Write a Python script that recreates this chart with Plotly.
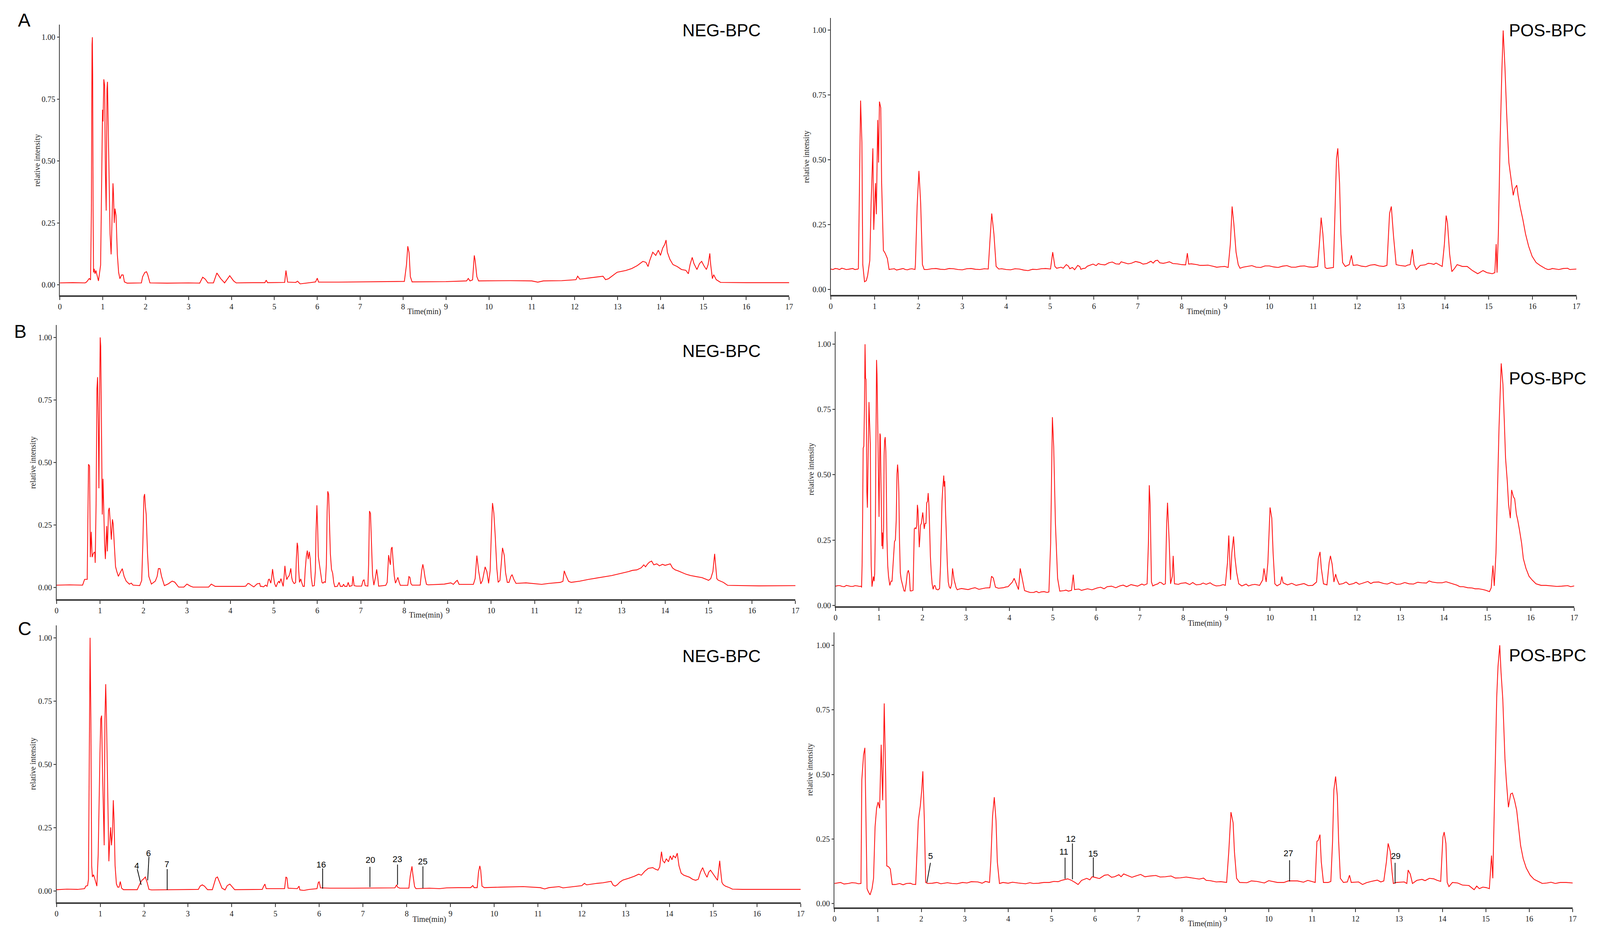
import plotly.graph_objects as go

W, H = 4295, 2409          # reference picture size (design grid)
K = 0.956                  # css-pixel / picture-pixel ratio observed in the renderer

# ---------------- data: (time [min], relative intensity) ----------------
neg_a_t = [0.00,0.30,0.59,0.625,0.686,0.716,0.735,0.75,0.758,0.765,0.775,0.785,0.80,0.82,0.84,0.87,0.90,0.95,0.977,0.995,
           1.007,1.025,1.044,1.062,1.08,1.098,1.11,1.13,1.147,1.17,1.195,1.22,1.238,1.25,1.268,1.286,1.31,1.34,1.37,1.40,
           1.44,1.475,1.505,1.57,1.90,1.93,1.98,2.02,2.05,2.10,2.5,3.0,3.26,3.33,3.39,3.45,3.58,3.66,3.75,3.84,
           3.96,4.05,4.11,4.5,4.78,4.81,4.84,5.24,5.27,5.31,5.50,5.54,5.60,5.69,5.96,6.00,6.03,6.5,7.0,7.5,
           8.03,8.08,8.11,8.14,8.17,8.21,9.0,9.48,9.52,9.56,9.62,9.66,9.68,9.72,9.76,10.5,11.0,11.14,11.27,11.7,
           12.03,12.07,12.12,12.39,12.66,12.72,12.79,12.99,13.19,13.33,13.46,13.59,13.66,13.71,13.75,13.82,13.89,13.95,14.00,14.05,
           14.10,14.13,14.16,14.22,14.29,14.39,14.49,14.59,14.65,14.69,14.74,14.78,14.85,14.91,14.96,15.01,15.07,15.11,15.15,15.17,
           15.21,15.24,15.30,15.40,16.0,17.0]
neg_a_v = [0.008,0.009,0.008,0.012,0.026,0.020,0.30,0.97,1.00,0.85,0.30,0.05,0.065,0.045,0.058,0.035,0.016,0.08,0.41,0.707,
           0.66,0.83,0.805,0.45,0.30,0.79,0.82,0.61,0.41,0.205,0.123,0.288,0.41,0.37,0.25,0.308,0.28,0.123,0.05,0.025,
           0.04,0.04,0.012,0.007,0.008,0.033,0.05,0.053,0.04,0.008,0.007,0.008,0.007,0.031,0.023,0.008,0.008,0.048,0.025,0.008,
           0.037,0.016,0.008,0.009,0.009,0.019,0.009,0.010,0.058,0.011,0.010,0.015,0.004,0.006,0.012,0.027,0.011,0.011,0.012,0.013,
           0.014,0.082,0.156,0.13,0.033,0.012,0.013,0.016,0.026,0.016,0.02,0.119,0.099,0.033,0.016,0.017,0.016,0.011,0.016,0.017,
           0.021,0.035,0.023,0.029,0.035,0.021,0.025,0.051,0.058,0.066,0.078,0.095,0.091,0.074,0.099,0.132,0.119,0.14,0.119,0.148,
           0.164,0.181,0.132,0.103,0.082,0.074,0.062,0.059,0.045,0.082,0.111,0.086,0.062,0.086,0.095,0.078,0.062,0.082,0.127,0.082,
           0.025,0.041,0.021,0.010,0.009,0.009]

pos_a_t = [0,0.1,0.2,0.3,0.4,0.5,0.62,0.63,0.65,0.68,0.71,0.73,0.77,0.81,0.84,0.89,0.92,0.96,0.98,1.02,
           1.04,1.07,1.09,1.11,1.14,1.16,1.20,1.24,1.29,1.33,1.39,1.5,1.6,1.7,1.8,1.92,1.93,1.97,1.99,2.01,
           2.05,2.09,2.13,2.3,2.5,2.7,2.9,3.1,3.3,3.5,3.59,3.63,3.67,3.72,3.77,3.83,4.0,4.2,4.4,4.6,
           4.8,5.01,5.06,5.11,5.15,5.25,5.37,5.45,5.51,5.63,5.7,5.75,5.85,5.98,6.15,6.34,6.5,6.69,6.85,7.05,
           7.2,7.40,7.5,7.64,7.8,8.0,8.09,8.13,8.16,8.35,8.5,8.71,8.9,9.06,9.11,9.15,9.19,9.24,9.29,9.33,
           9.5,9.7,9.9,10.1,10.3,10.5,10.7,10.9,11.1,11.14,11.18,11.22,11.27,11.31,11.46,11.49,11.53,11.56,11.60,11.63,
           11.67,11.73,11.82,11.87,11.91,12.1,12.3,12.5,12.68,12.74,12.78,12.83,12.89,12.97,13.1,13.21,13.26,13.30,13.35,13.44,
           13.55,13.68,13.86,13.94,13.99,14.03,14.06,14.11,14.16,14.22,14.28,14.40,14.51,14.63,14.75,14.87,14.96,15.08,15.14,15.17,
           15.19,15.22,15.26,15.30,15.33,15.37,15.41,15.46,15.51,15.56,15.59,15.64,15.67,15.72,15.78,15.84,15.91,15.99,16.08,16.17,
           16.29,16.4,16.53,16.7,16.85,17.0]
pos_a_v = [0.079,0.081,0.077,0.080,0.078,0.081,0.079,0.081,0.33,0.728,0.567,0.096,0.03,0.034,0.053,0.112,0.332,0.544,0.23,0.41,
           0.29,0.653,0.489,0.724,0.70,0.41,0.151,0.14,0.12,0.077,0.079,0.075,0.080,0.077,0.079,0.077,0.096,0.324,0.387,0.457,
           0.332,0.096,0.077,0.080,0.078,0.081,0.077,0.080,0.078,0.080,0.079,0.19,0.293,0.214,0.089,0.079,0.077,0.080,0.075,0.078,
           0.080,0.079,0.144,0.089,0.082,0.086,0.096,0.08,0.085,0.093,0.078,0.081,0.09,0.098,0.097,0.103,0.099,0.103,0.101,0.104,
           0.1,0.111,0.103,0.103,0.1,0.096,0.095,0.14,0.098,0.096,0.093,0.09,0.088,0.085,0.175,0.32,0.253,0.144,0.096,0.082,
           0.089,0.086,0.091,0.087,0.090,0.086,0.090,0.087,0.089,0.175,0.277,0.214,0.085,0.081,0.085,0.253,0.504,0.544,0.41,0.214,
           0.104,0.089,0.096,0.132,0.093,0.090,0.094,0.091,0.093,0.293,0.32,0.206,0.096,0.093,0.09,0.096,0.155,0.096,0.077,0.093,
           0.095,0.10,0.096,0.089,0.175,0.285,0.257,0.136,0.069,0.081,0.096,0.089,0.089,0.073,0.061,0.073,0.065,0.061,0.065,0.175,
           0.065,0.214,0.567,0.842,0.998,0.858,0.677,0.489,0.426,0.363,0.387,0.402,0.363,0.316,0.269,0.214,0.167,0.128,0.104,0.093,
           0.081,0.078,0.079,0.081,0.077,0.079]
# baseline detail (noise) read between the peaks
pos_a_fine_t = [0.05,0.15,0.25,0.35,0.45,0.55,1.45,1.55,1.65,1.75,1.85,2.2,2.4,2.6,2.8,3.0,3.2,3.4,3.9,4.1,
                4.3,4.5,4.7,4.9,5.3,5.42,5.56,5.68,5.8,5.92,6.05,6.1,6.25,6.42,6.58,6.62,6.78,6.95,7.12,7.3,
                7.35,7.45,7.58,7.72,7.9,8.22,8.42,8.6,8.8,8.98,9.4,9.6,9.8,10.0,10.2,10.4,10.6,10.8,11.0,12.0,
                12.2,12.4,12.6,13.15,13.62,13.75,13.8,16.35,16.45,16.6,16.8,16.95]
pos_a_fine_v = [0.077,0.080,0.082,0.077,0.080,0.077,0.080,0.077,0.081,0.076,0.080,0.077,0.081,0.077,0.080,0.076,0.081,0.077,0.080,0.076,
                0.079,0.073,0.077,0.081,0.082,0.090,0.076,0.088,0.082,0.094,0.092,0.100,0.095,0.106,0.098,0.107,0.099,0.108,0.098,0.109,
                0.102,0.113,0.101,0.107,0.099,0.099,0.093,0.094,0.086,0.089,0.086,0.092,0.085,0.091,0.085,0.092,0.086,0.091,0.086,0.095,
                0.088,0.096,0.089,0.094,0.101,0.097,0.102,0.077,0.081,0.077,0.082,0.078]

neg_b_t = [0,0.3,0.6,0.646,0.706,0.736,0.76,0.778,0.80,0.82,0.85,0.88,0.89,0.91,0.93,0.945,0.963,0.975,0.993,1.005,
           1.017,1.035,1.053,1.07,1.089,1.106,1.124,1.142,1.154,1.17,1.196,1.214,1.238,1.262,1.286,1.304,1.328,1.358,1.388,1.423,
           1.465,1.513,1.555,1.603,1.675,1.72,1.76,1.914,1.96,1.986,2.01,2.027,2.045,2.063,2.093,2.123,2.183,2.273,2.315,2.344,
           2.38,2.416,2.482,2.57,2.66,2.72,2.81,2.93,3.0,3.08,3.14,3.5,3.56,3.65,4.31,4.354,4.405,4.438,4.49,4.54,
           4.614,4.674,4.69,4.725,4.76,4.81,4.843,4.876,4.894,4.93,4.95,4.97,4.995,5.018,5.05,5.085,5.113,5.133,5.163,5.19,
           5.214,5.23,5.254,5.275,5.298,5.32,5.35,5.37,5.39,5.41,5.43,5.467,5.50,5.517,5.537,5.55,5.57,5.59,5.618,5.64,
           5.67,5.70,5.72,5.746,5.77,5.79,5.816,5.837,5.86,5.888,5.93,5.955,5.97,5.99,6.006,6.023,6.05,6.076,6.107,6.13,
           6.158,6.185,6.208,6.225,6.24,6.26,6.275,6.30,6.326,6.353,6.377,6.40,6.46,6.50,6.53,6.58,6.603,6.63,6.68,6.71,
           6.738,6.80,6.82,6.846,6.90,7.018,7.05,7.075,7.10,7.163,7.18,7.20,7.223,7.243,7.27,7.30,7.337,7.365,7.39,7.41,
           7.574,7.607,7.625,7.64,7.665,7.68,7.70,7.72,7.74,7.77,7.797,7.826,7.853,7.884,7.91,8.08,8.106,8.13,8.153,8.18,
           8.366,8.40,8.427,8.45,8.477,8.51,8.55,8.92,9.07,9.13,9.19,9.22,9.26,9.59,9.63,9.67,9.71,9.76,9.80,9.86,
           9.90,9.94,9.975,10.01,10.03,10.06,10.09,10.13,10.16,10.20,10.24,10.26,10.30,10.33,10.37,10.41,10.45,10.48,10.52,10.57,
           10.80,11.06,11.16,11.33,11.59,11.65,11.68,11.72,11.78,11.84,12.04,12.24,12.50,12.77,12.96,13.16,13.25,13.35,13.45,13.51,
           13.55,13.60,13.64,13.69,13.74,13.81,13.87,13.94,14.0,14.07,14.12,14.17,14.23,14.30,14.39,14.49,14.59,14.73,14.85,14.95,
           15.0,15.05,15.10,15.14,15.16,15.19,15.22,15.28,15.34,15.44,15.77,16.16,17.0]
neg_b_v = [0.010,0.011,0.010,0.033,0.033,0.493,0.486,0.122,0.223,0.122,0.138,0.142,0.099,0.331,0.795,0.841,0.64,0.397,0.795,1.0,
           0.965,0.64,0.292,0.435,0.285,0.176,0.114,0.215,0.246,0.145,0.308,0.319,0.254,0.192,0.273,0.254,0.176,0.084,0.064,0.045,
           0.06,0.076,0.045,0.026,0.014,0.018,0.010,0.008,0.029,0.176,0.362,0.374,0.323,0.292,0.138,0.045,0.014,0.026,0.045,0.076,
           0.076,0.045,0.008,0.015,0.026,0.022,0.002,0.002,0.014,0.006,0.002,0.002,0.014,0.005,0.005,0.006,0.017,0.015,0.008,0.003,
           0.015,0.017,0.005,0.005,0.003,0.010,0.005,0.032,0.034,0.018,0.041,0.074,0.041,0.016,0.003,0.018,0.026,0.018,0.036,0.018,
           0.005,0.031,0.087,0.052,0.032,0.041,0.047,0.060,0.077,0.041,0.026,0.016,0.020,0.114,0.179,0.166,0.073,0.021,0.035,0.021,
           0.005,0.005,0.067,0.124,0.148,0.114,0.143,0.114,0.041,0.006,0.008,0.067,0.223,0.329,0.249,0.124,0.093,0.062,0.021,0.018,
           0.023,0.021,0.093,0.301,0.385,0.373,0.275,0.135,0.073,0.057,0.021,0.004,0.005,0.021,0.005,0.005,0.014,0.005,0.005,0.021,
           0.005,0.008,0.046,0.008,0.006,0.006,0.027,0.032,0.008,0.006,0.093,0.306,0.296,0.181,0.052,0.010,0.041,0.073,0.041,0.006,
           0.009,0.021,0.093,0.130,0.104,0.091,0.155,0.162,0.114,0.047,0.018,0.031,0.041,0.021,0.009,0.009,0.044,0.041,0.016,0.010,
           0.010,0.067,0.093,0.073,0.041,0.013,0.011,0.014,0.019,0.013,0.025,0.029,0.013,0.013,0.036,0.128,0.067,0.015,0.029,0.083,
           0.064,0.017,0.067,0.253,0.338,0.299,0.214,0.075,0.021,0.029,0.122,0.159,0.129,0.060,0.021,0.021,0.044,0.052,0.033,0.017,
           0.019,0.015,0.013,0.017,0.021,0.025,0.067,0.048,0.025,0.021,0.026,0.033,0.040,0.048,0.056,0.064,0.069,0.071,0.079,0.091,
           0.083,0.095,0.102,0.106,0.091,0.095,0.087,0.093,0.089,0.093,0.095,0.079,0.071,0.067,0.060,0.053,0.048,0.044,0.040,0.033,
           0.029,0.036,0.064,0.135,0.098,0.036,0.030,0.025,0.021,0.009,0.008,0.007,0.008]

pos_b_t = [0,0.1,0.2,0.3,0.4,0.5,0.59,0.598,0.61,0.62,0.635,0.65,0.664,0.678,0.69,0.70,0.712,0.72,0.732,0.744,
           0.758,0.769,0.783,0.80,0.81,0.82,0.838,0.855,0.87,0.886,0.90,0.915,0.93,0.943,0.954,0.963,0.977,0.99,1.0,1.011,
           1.02,1.03,1.043,1.054,1.066,1.077,1.088,1.105,1.117,1.128,1.142,1.157,1.168,1.182,1.20,1.219,1.248,1.276,1.299,1.319,
           1.339,1.356,1.376,1.396,1.413,1.427,1.442,1.456,1.47,1.49,1.51,1.533,1.553,1.575,1.598,1.624,1.652,1.675,1.698,1.718,
           1.746,1.783,1.795,1.812,1.832,1.852,1.869,1.883,1.897,1.912,1.926,1.94,1.954,1.974,1.988,2.006,2.023,2.04,2.06,2.08,
           2.097,2.117,2.131,2.148,2.165,2.182,2.202,2.222,2.245,2.268,2.29,2.316,2.359,2.393,2.416,2.433,2.45,2.467,2.479,2.49,
           2.50,2.513,2.53,2.55,2.573,2.593,2.615,2.644,2.672,2.692,2.71,2.729,2.752,2.772,2.80,2.843,2.986,3.21,3.45,3.55,
           3.59,3.63,3.68,3.86,3.97,4.07,4.11,4.16,4.21,4.25,4.30,4.35,4.42,4.56,4.73,4.91,4.95,4.99,5.02,5.06,
           5.11,5.16,5.26,5.43,5.47,5.50,5.72,6.02,6.25,6.54,6.89,7.17,7.20,7.22,7.24,7.27,7.30,7.42,7.50,7.59,
           7.62,7.64,7.68,7.71,7.75,7.77,7.80,7.89,8.06,8.30,8.53,8.62,8.76,8.97,9.02,9.05,9.09,9.12,9.16,9.19,
           9.23,9.28,9.35,9.58,9.76,9.83,9.86,9.91,9.95,10.0,10.04,10.07,10.11,10.16,10.24,10.27,10.30,10.40,10.69,10.98,
           11.07,11.11,11.15,11.18,11.23,11.31,11.36,11.39,11.43,11.47,11.51,11.54,11.59,11.68,11.92,12.15,12.38,12.62,12.91,13.20,
           13.49,13.73,13.96,14.2,14.37,14.55,14.72,14.90,15.05,15.09,15.13,15.16,15.20,15.24,15.27,15.32,15.36,15.39,15.42,15.46,
           15.49,15.53,15.56,15.60,15.63,15.67,15.70,15.74,15.79,15.83,15.89,15.96,16.03,16.12,16.24,16.47,16.71,17.0]
pos_b_v = [0.074,0.076,0.072,0.075,0.073,0.075,0.074,0.069,0.153,0.293,0.602,0.609,0.749,0.999,0.869,0.865,0.644,0.434,0.374,0.532,
           0.714,0.778,0.70,0.616,0.293,0.153,0.072,0.093,0.111,0.093,0.121,0.293,0.609,0.939,0.883,0.785,0.644,0.434,0.339,0.504,
           0.658,0.651,0.504,0.364,0.227,0.279,0.216,0.293,0.574,0.630,0.644,0.588,0.469,0.258,0.153,0.111,0.077,0.093,0.093,0.153,
           0.202,0.244,0.251,0.328,0.504,0.539,0.504,0.434,0.258,0.125,0.10,0.083,0.069,0.056,0.055,0.083,0.125,0.135,0.118,0.056,
           0.056,0.058,0.153,0.293,0.297,0.293,0.307,0.385,0.364,0.293,0.223,0.258,0.307,0.314,0.335,0.356,0.328,0.293,0.314,0.314,
           0.392,0.399,0.43,0.385,0.293,0.188,0.125,0.083,0.062,0.076,0.076,0.062,0.060,0.065,0.153,0.293,0.399,0.448,0.476,0.497,
           0.455,0.476,0.364,0.258,0.153,0.09,0.072,0.065,0.083,0.142,0.118,0.097,0.083,0.069,0.060,0.063,0.063,0.068,0.067,0.068,
           0.112,0.105,0.070,0.068,0.072,0.090,0.104,0.083,0.061,0.142,0.098,0.057,0.053,0.050,0.052,0.052,0.238,0.72,0.608,0.312,
           0.104,0.055,0.057,0.058,0.118,0.061,0.061,0.067,0.072,0.075,0.077,0.083,0.238,0.46,0.386,0.090,0.075,0.083,0.087,0.083,
           0.312,0.393,0.238,0.083,0.112,0.19,0.083,0.081,0.087,0.079,0.081,0.087,0.075,0.077,0.164,0.268,0.098,0.201,0.264,0.186,
           0.127,0.083,0.075,0.079,0.077,0.098,0.142,0.090,0.164,0.375,0.334,0.201,0.083,0.075,0.083,0.111,0.087,0.079,0.081,0.077,
           0.090,0.179,0.205,0.142,0.083,0.079,0.164,0.19,0.157,0.090,0.12,0.101,0.081,0.084,0.084,0.087,0.089,0.084,0.081,0.083,
           0.087,0.090,0.087,0.083,0.072,0.068,0.064,0.061,0.053,0.068,0.153,0.075,0.201,0.46,0.682,0.926,0.845,0.712,0.564,0.475,
           0.386,0.334,0.442,0.416,0.408,0.349,0.327,0.29,0.238,0.179,0.142,0.112,0.098,0.083,0.077,0.075,0.074,0.075]
pos_b_fine_t = [0.05,0.15,0.25,0.35,0.45,0.55,2.9,3.05,3.15,3.3,3.4,3.75,3.92,4.48,4.62,4.68,4.8,4.87,5.3,5.36,
                5.6,5.66,5.8,5.9,6.1,6.18,6.35,6.45,6.62,6.7,6.8,6.95,7.05,7.1,7.35,7.46,7.55,7.95,8.15,8.22,
                8.4,8.46,8.68,8.85,8.92,9.45,9.5,9.65,10.5,10.6,10.78,10.88,11.75,11.82,11.98,12.05,12.25,12.32,12.5,12.7,
                12.8,13.0,13.1,13.3,13.4,13.6,13.66,13.85,14.05,14.3,14.45,14.65,14.8,14.97,16.35,16.6,16.85,16.92]
pos_b_fine_v = [0.076,0.073,0.077,0.073,0.076,0.073,0.065,0.061,0.066,0.062,0.066,0.066,0.071,0.050,0.054,0.049,0.053,0.050,0.059,0.055,
                0.063,0.058,0.064,0.060,0.070,0.064,0.074,0.068,0.078,0.072,0.080,0.074,0.082,0.078,0.079,0.089,0.080,0.085,0.080,0.088,
                0.081,0.086,0.080,0.076,0.080,0.082,0.075,0.081,0.085,0.077,0.084,0.076,0.090,0.080,0.089,0.081,0.092,0.084,0.090,0.082,
                0.089,0.082,0.088,0.082,0.089,0.086,0.094,0.087,0.091,0.078,0.072,0.067,0.064,0.058,0.077,0.073,0.076,0.072]

neg_c_t = [0,0.24,0.48,0.64,0.67,0.71,0.73,0.75,0.767,0.785,0.803,0.82,0.845,0.87,0.89,0.922,0.952,0.976,0.993,1.011,
           1.03,1.047,1.07,1.089,1.106,1.124,1.142,1.16,1.178,1.196,1.214,1.237,1.255,1.279,1.297,1.315,1.338,1.368,1.398,1.428,
           1.457,1.487,1.529,1.844,1.904,1.95,1.993,2.029,2.064,2.112,2.17,2.915,3.24,3.28,3.33,3.38,3.45,3.56,3.60,3.64,
           3.676,3.72,3.78,3.85,3.90,3.96,4.02,4.07,4.70,4.73,4.76,4.79,5.21,5.24,5.265,5.29,5.50,5.54,5.56,5.65,
           5.77,5.95,5.98,6.00,6.03,6.246,6.78,7.38,7.73,7.77,7.79,7.84,8.05,8.08,8.12,8.14,8.18,8.21,8.52,8.75,
           8.91,9.17,9.46,9.51,9.54,9.61,9.64,9.67,9.69,9.72,9.77,10.14,10.66,11.05,11.15,11.25,11.48,11.57,11.77,12.0,
           12.06,12.11,12.35,12.48,12.67,12.71,12.76,12.81,12.87,12.94,13.07,13.2,13.30,13.36,13.44,13.52,13.62,13.68,13.74,13.78,
           13.82,13.85,13.89,13.93,13.98,14.02,14.06,14.09,14.14,14.18,14.22,14.27,14.33,14.40,14.46,14.53,14.60,14.66,14.71,14.76,
           14.81,14.86,14.90,14.94,14.99,15.05,15.10,15.12,15.15,15.17,15.20,15.23,15.28,15.37,15.44,15.67,16.32,17.0]
neg_c_v = [0.006,0.008,0.007,0.010,0.020,0.022,0.047,0.590,1.0,0.679,0.101,0.056,0.065,0.052,0.038,0.020,0.145,0.412,0.546,0.679,
           0.693,0.501,0.323,0.181,0.679,0.817,0.679,0.501,0.279,0.118,0.19,0.252,0.181,0.234,0.359,0.279,0.101,0.029,0.016,0.016,
           0.038,0.012,0.006,0.006,0.029,0.043,0.049,0.056,0.038,0.007,0.005,0.007,0.007,0.020,0.025,0.020,0.006,0.006,0.029,0.052,
           0.056,0.038,0.012,0.005,0.022,0.028,0.016,0.006,0.007,0.019,0.028,0.010,0.010,0.056,0.052,0.012,0.010,0.020,0.005,0.003,
           0.007,0.010,0.034,0.037,0.013,0.012,0.012,0.013,0.013,0.025,0.016,0.012,0.012,0.059,0.098,0.067,0.018,0.010,0.012,0.010,
           0.013,0.014,0.014,0.022,0.014,0.014,0.075,0.10,0.083,0.020,0.014,0.016,0.018,0.014,0.009,0.014,0.018,0.013,0.017,0.022,
           0.031,0.025,0.031,0.033,0.039,0.025,0.020,0.025,0.036,0.044,0.051,0.059,0.067,0.063,0.079,0.090,0.093,0.087,0.083,0.096,
           0.156,0.12,0.112,0.128,0.116,0.139,0.124,0.140,0.132,0.150,0.10,0.071,0.063,0.059,0.055,0.047,0.043,0.047,0.075,0.093,
           0.071,0.055,0.075,0.083,0.071,0.055,0.043,0.075,0.12,0.083,0.035,0.026,0.020,0.014,0.008,0.007,0.007,0.007]

pos_c_t = [0,0.14,0.32,0.49,0.61,0.63,0.67,0.70,0.725,0.75,0.78,0.82,0.865,0.90,0.935,0.97,1.005,1.04,1.076,1.11,
           1.146,1.18,1.205,1.25,1.286,1.33,1.40,1.66,1.87,1.93,1.976,2.01,2.035,2.07,2.10,2.15,2.36,2.71,2.95,3.30,
           3.57,3.60,3.64,3.68,3.72,3.75,3.80,3.88,4.23,4.58,4.82,5.05,5.23,5.37,5.46,5.54,5.61,5.69,5.81,5.99,
           6.22,6.45,6.66,6.92,7.27,7.62,7.97,8.27,8.56,8.79,9.03,9.08,9.13,9.18,9.21,9.26,9.33,9.73,10.2,10.66,
           11.07,11.11,11.14,11.18,11.21,11.26,11.37,11.43,11.47,11.50,11.54,11.58,11.61,11.65,11.72,11.81,11.86,11.90,12.07,12.16,
           12.36,12.65,12.71,12.75,12.80,12.84,12.87,12.94,13.12,13.18,13.21,13.26,13.31,13.41,13.53,13.70,13.88,13.96,14.01,14.04,
           14.08,14.11,14.15,14.23,14.35,14.46,14.61,14.73,14.79,14.85,14.93,15.01,15.08,15.13,15.16,15.20,15.25,15.28,15.32,15.35,
           15.39,15.44,15.47,15.52,15.57,15.61,15.66,15.71,15.75,15.80,15.86,15.93,16.02,16.11,16.23,16.41,16.71,17.0]
pos_c_v = [0.078,0.082,0.078,0.080,0.078,0.48,0.576,0.603,0.321,0.058,0.046,0.034,0.058,0.098,0.297,0.369,0.393,0.369,0.615,0.40,
           0.775,0.48,0.146,0.142,0.134,0.074,0.074,0.078,0.074,0.321,0.377,0.44,0.512,0.321,0.082,0.078,0.082,0.078,0.082,0.084,
           0.082,0.162,0.337,0.412,0.321,0.162,0.078,0.082,0.080,0.078,0.082,0.086,0.090,0.096,0.090,0.082,0.074,0.090,0.098,0.102,
           0.110,0.104,0.115,0.106,0.107,0.104,0.10,0.098,0.090,0.084,0.082,0.201,0.354,0.313,0.201,0.098,0.082,0.086,0.082,0.088,
           0.082,0.241,0.245,0.267,0.162,0.082,0.082,0.086,0.241,0.44,0.492,0.416,0.241,0.098,0.082,0.084,0.110,0.082,0.084,0.074,
           0.086,0.088,0.162,0.233,0.201,0.122,0.078,0.082,0.084,0.078,0.13,0.114,0.078,0.090,0.094,0.098,0.090,0.086,0.257,0.277,
           0.233,0.082,0.066,0.082,0.080,0.072,0.070,0.054,0.068,0.058,0.064,0.062,0.058,0.186,0.098,0.40,0.799,0.918,1.0,0.894,
           0.791,0.56,0.48,0.373,0.424,0.428,0.40,0.361,0.297,0.225,0.174,0.138,0.110,0.094,0.084,0.080,0.082,0.080]
pos_c_fine_t = [0.07,0.22,0.4,0.55,1.5,1.58,1.75,1.8,2.25,2.45,2.6,2.82,3.05,3.15,3.4,3.48,4.0,4.1,4.4,4.5,
                4.7,4.95,5.15,5.88,5.93,6.1,6.3,6.38,6.55,6.6,6.75,6.85,7.05,7.15,7.4,7.5,7.75,7.85,8.1,8.4,
                8.5,8.65,8.9,9.5,9.6,9.9,10.0,10.35,10.45,10.8,10.9,12.25,12.5,12.58,13.6,13.8,16.3,16.5,16.6,16.85]
pos_c_fine_v = [0.080,0.076,0.081,0.077,0.078,0.073,0.079,0.075,0.079,0.077,0.081,0.077,0.080,0.085,0.079,0.086,0.079,0.083,0.077,0.081,
                0.079,0.082,0.085,0.092,0.104,0.097,0.112,0.102,0.112,0.104,0.109,0.102,0.113,0.104,0.109,0.103,0.107,0.099,0.103,0.095,
                0.099,0.089,0.085,0.081,0.088,0.080,0.089,0.082,0.088,0.083,0.090,0.081,0.091,0.084,0.089,0.096,0.078,0.083,0.078,0.082]

# peak labels (panel C): label, label position (t, v), leader line (t0, v0) -> (t1, v1)
neg_c_labels = ["4", "6", "7", "16", "20", "23", "25"]
neg_c_lab_t = [1.83, 2.10, 2.516, 6.04, 7.17, 7.78, 8.36]
neg_c_lab_v = [0.100, 0.150, 0.107, 0.105, 0.123, 0.126, 0.117]
neg_c_ln_t0 = [1.844, 2.112, 2.528, 6.08, 7.16, 7.79, 8.37]
neg_c_ln_v0 = [0.087, 0.136, 0.087, 0.090, 0.096, 0.105, 0.098]
neg_c_ln_t1 = [1.933, 2.082, 2.528, 6.08, 7.16, 7.79, 8.37]
neg_c_ln_v1 = [0.025, 0.043, 0.005, 0.010, 0.016, 0.025, 0.012]

pos_c_labels = ["5", "11", "12", "15", "27", "29"]
pos_c_lab_t = [2.21, 5.285, 5.44, 5.95, 10.45, 12.92]
pos_c_lab_v = [0.184, 0.201, 0.251, 0.193, 0.195, 0.184]
pos_c_ln_t0 = [2.21, 5.31, 5.48, 5.96, 10.48, 12.91]
pos_c_ln_v0 = [0.158, 0.178, 0.233, 0.179, 0.168, 0.158]
pos_c_ln_t1 = [2.128, 5.31, 5.48, 5.96, 10.48, 12.91]
pos_c_ln_v1 = [0.082, 0.096, 0.094, 0.104, 0.086, 0.078]

x_ticks = list(range(0, 18))
y_ticks = [0, 0.25, 0.5, 0.75, 1.0]
y_ticktext = ["0.00", "0.25", "0.50", "0.75", "1.00"]


def merged(t_main, v_main, t_fine=None, v_fine=None):
    pts = list(zip(t_main, v_main))
    if t_fine:
        pts += list(zip(t_fine, v_fine))
    pts.sort(key=lambda p: p[0])
    return [p[0] for p in pts], [p[1] for p in pts]


series = [merged(neg_a_t, neg_a_v),
          merged(pos_a_t, pos_a_v, pos_a_fine_t, pos_a_fine_v),
          merged(neg_b_t, neg_b_v),
          merged(pos_b_t, pos_b_v, pos_b_fine_t, pos_b_fine_v),
          merged(neg_c_t, neg_c_v),
          merged(pos_c_t, pos_c_v, pos_c_fine_t, pos_c_fine_v)]

# ---------------- layout geometry (reference-picture pixels) ----------------
# (left, right, top, bottom, ymin, ymax)
panels = [
    (156, 2121, 63, 759, -0.0424, 1.0514),
    (2233, 4242, 46, 758, -0.021, 1.0465),
    (147, 2138, 835, 1540, -0.0467, 1.0498),
    (2246, 4236, 852, 1558, -0.003, 1.0476),
    (147, 2152, 1607, 2319, -0.0445, 1.049),
    (2243, 4232, 1625, 2332, -0.015, 1.0497),
]


def px(x):
    return x / W


def py(y):
    return 1 - y / H


def s(v):
    return v * K


SERIF = "Liberation Serif, Times New Roman, serif"
SANS = "Liberation Sans, Arial, sans-serif"
NARROW = "Liberation Sans Narrow, Arial Narrow, Liberation Sans, Arial, sans-serif"

fig = go.Figure()
layout = dict(autosize=True, margin=dict(l=0, r=0, t=0, b=0, pad=0),
              paper_bgcolor="white", plot_bgcolor="white", showlegend=False)

for i, ((l, r, t, b, y0, y1), (tt, vv)) in enumerate(zip(panels, series)):
    n = "" if i == 0 else str(i + 1)
    fig.add_trace(go.Scatter(x=tt, y=vv, mode="lines", xaxis="x" + n, yaxis="y" + n,
                             line=dict(color="#ff1010", width=s(2.2)), hoverinfo="skip"))
    layout["xaxis" + n] = dict(domain=[px(l), px(r)], range=[0, 17], anchor="y" + n,
                               tickmode="array", tickvals=x_ticks, ticks="outside", ticklen=s(8),
                               tickwidth=s(2), tickcolor="#333", showline=True, linewidth=s(4),
                               linecolor="#3a3a3a", showgrid=False, zeroline=False,
                               tickfont=dict(family=SERIF, size=s(21), color="#222"))
    layout["yaxis" + n] = dict(domain=[py(b), py(t)], range=[y0, y1], anchor="x" + n,
                               tickmode="array", tickvals=y_ticks, ticktext=y_ticktext,
                               ticks="outside", ticklen=s(6), tickwidth=s(2), tickcolor="#333",
                               showline=True, linewidth=s(2), linecolor="#3a3a3a",
                               showgrid=False, zeroline=False,
                               tickfont=dict(family=SERIF, size=s(21), color="#222"))

annotations = []


def add_text(x, y, text, size, family, color="black", angle=0):
    annotations.append(dict(x=px(x), y=py(y), xref="paper", yref="paper", text=text,
                            showarrow=False, textangle=angle, xanchor="center", yanchor="middle",
                            font=dict(family=family, size=s(size), color=color)))


for (x, y, txt) in [(60, 52, "A"), (49, 852, "B"), (62, 1616, "C")]:
    add_text(x, y, txt, 50, SANS)
for y in [78, 902, 1686]:
    add_text(1939, y, "NEG-BPC", 46, SANS)
for y in [78, 972, 1684]:
    add_text(4164, y, "POS-BPC", 46, SANS)
for (x, y) in [(95, 412), (2167, 403), (84, 1189), (2180, 1205), (84, 1963), (2177, 1978)]:
    add_text(x, y, "relative intensity", 21, SERIF, "#222", -90)
for (x, y) in [(1138, 800), (3237, 800), (1142, 1580), (3240, 1601), (1151, 2362), (3240, 2373)]:
    add_text(x, y, "Time(min)", 21, SERIF, "#222")

shapes = []
for labels, lt, lv, t0, v0, t1, v1, ax in [
        (neg_c_labels, neg_c_lab_t, neg_c_lab_v, neg_c_ln_t0, neg_c_ln_v0, neg_c_ln_t1, neg_c_ln_v1, "5"),
        (pos_c_labels, pos_c_lab_t, pos_c_lab_v, pos_c_ln_t0, pos_c_ln_v0, pos_c_ln_t1, pos_c_ln_v1, "6")]:
    for k in range(len(labels)):
        annotations.append(dict(x=lt[k], y=lv[k], xref="x" + ax, yref="y" + ax, text=labels[k],
                                showarrow=False, xanchor="center", yanchor="middle",
                                font=dict(family=NARROW, size=s(23), color="black")))
        shapes.append(dict(type="line", xref="x" + ax, yref="y" + ax, x0=t0[k], y0=v0[k],
                           x1=t1[k], y1=v1[k], line=dict(color="black", width=s(2))))

layout["annotations"] = annotations
layout["shapes"] = shapes
fig.update_layout(**layout)

fit_js = ("document.body.style.margin='0';document.body.style.overflow='hidden';"
          "document.documentElement.style.overflow='hidden';"
          "Plotly.Plots.resize(document.getElementById('{plot_id}'));")
fig.write_html("out.html", default_width="100vw", default_height="100vh",
               config={"responsive": True, "displayModeBar": False}, post_script=fit_js)
